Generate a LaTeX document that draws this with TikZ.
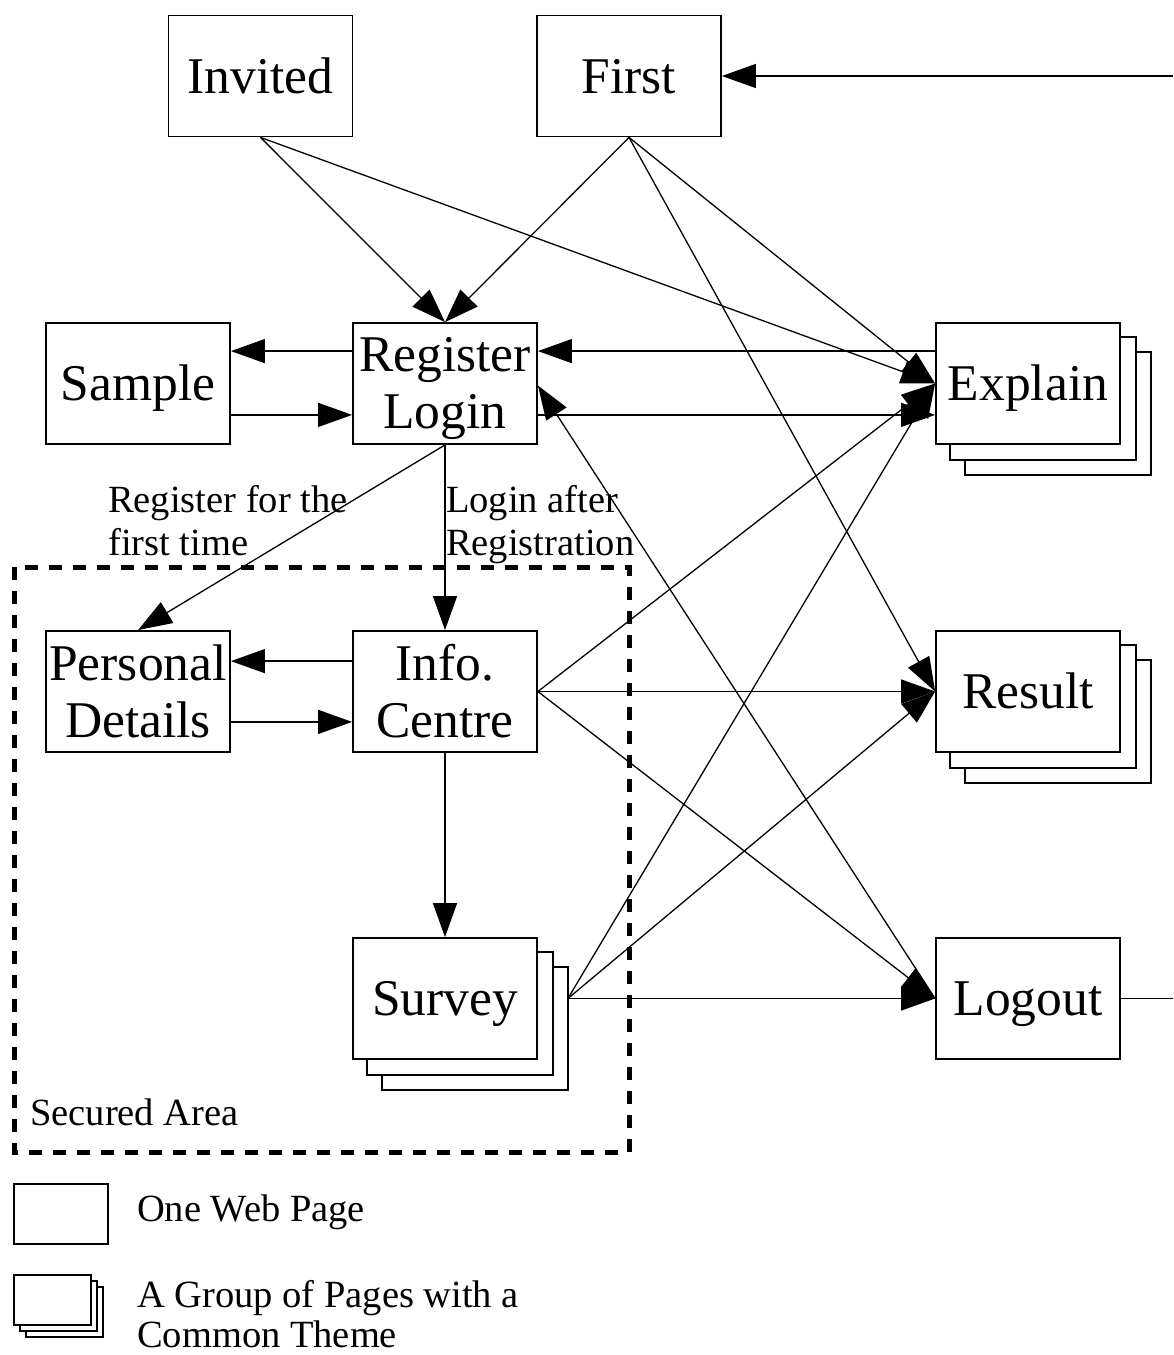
\documentclass[tikz,border=0pt]{standalone}
\usepackage{fontspec}
\setmainfont{Liberation Serif}
\usetikzlibrary{arrows.meta,backgrounds}
\begin{document}
\begin{tikzpicture}[x=1pt,y=-1pt,
  page/.style={draw, line width=1.8pt, fill=white, minimum width=184pt,
    minimum height=121pt, inner sep=0pt},
  back/.style={draw, line width=1.8pt, fill=white},
  big/.style={font=\fontsize{51.5}{57}\selectfont, inner sep=0pt, anchor=base},
  small/.style={font=\fontsize{38.5}{43}\selectfont, inner sep=0pt, anchor=base west},
  link/.style={line width=1.3pt, -{Triangle[length=34pt,width=24pt]}},
  plain/.style={line width=1.3pt},
  secure/.style={line width=5pt, dash pattern=on 13pt off 11pt}]

\useasboundingbox (0,0) rectangle (1173,1355);

% secured area frame
\draw[secure] (14,567) rectangle (629,1152);
\node[small] (secured) at (30,1125) {Secured Area};

% pages
\node[page] (inv) at (260.5,76)  {};
\node[page] (fst) at (629,76)    {};
\node[page] (sm)  at (138,383.5) {};
\node[page] (reg) at (445,383.5) {};
\node[page] (ex)  at (1028,383.5) {};
\node[page] (pd)  at (138,691.5) {};
\node[page] (ic)  at (445,691.5) {};
\node[page] (rs)  at (1028,691.5) {};
\node[page] (sv)  at (445,998.5) {};
\node[page] (lo)  at (1028,998.5) {};

% stacked pages behind the page groups
\begin{scope}[on background layer]
  \foreach \n in {ex,rs,sv} {
    \draw[back] ([shift={(30,30)}]\n.north west) rectangle ([shift={(30,30)}]\n.south east);
    \draw[back] ([shift={(15,15)}]\n.north west) rectangle ([shift={(15,15)}]\n.south east);
  }
\end{scope}

% page titles
\node[big] (tinv) at (260.5,93) {Invited};
\node[big] (tfst) at (629,93) {First};
\node[big] (tsm)  at (138,400.5) {Sample};
\node[big] (treg) at (445,371) {Register};
\node[big] (tlog) at (445,428) {Login};
\node[big] (tex)  at (1028,400.5) {Explain};
\node[big] (tpd)  at (138,680) {Personal};
\node[big] (tdet) at (138,737) {Details};
\node[big] (tic)  at (445,680) {Info.};
\node[big] (tcen) at (445,737) {Centre};
\node[big] (trs)  at (1028,708.5) {Result};
\node[big] (tsv)  at (445,1015.5) {Survey};
\node[big] (tlo)  at (1028,1015.5) {Logout};

% edge labels
\node[small] (la) at (108,512) {Register for the};
\node[small] (lb) at (108,555) {first time};
\node[small] (lc) at (446,512) {Login after};
\node[small] (ld) at (446,555) {Registration};

% connectors
\draw[link] (inv.south) -- (reg.north);
\draw[link] (inv.south) -- (ex.west);
\draw[link] (fst.south) -- (reg.north);
\draw[link] (fst.south) -- (ex.west);
\draw[link] (fst.south) -- (rs.west);

\draw[link] ([yshift=-29pt]reg.north west) -- ([yshift=-29pt]sm.north east);
\draw[link] ([yshift=30pt]sm.south east) -- ([yshift=30pt]reg.south west);
\draw[link] ([yshift=-29pt]ex.north west) -- ([yshift=-29pt]reg.north east);
\draw[link] ([yshift=30pt]reg.south east) -- ([yshift=30pt]ex.south west);

\draw[link] (reg.south) -- (pd.north);
\draw[link] (reg.south) -- (ic.north);
\draw[link] ([yshift=-31pt]ic.north west) -- ([yshift=-31pt]pd.north east);
\draw[link] ([yshift=31pt]pd.south east) -- ([yshift=31pt]ic.south west);
\draw[link] (ic.south) -- (sv.north);

\draw[link] (ic.east) -- (ex.west);
\draw[link] (ic.east) -- (rs.west);
\draw[link] (ic.east) -- (lo.west);

\coordinate (svout) at ([xshift=30pt]sv.east);
\draw[link] (svout) -- (ex.west);
\draw[link] (svout) -- (rs.west);
\draw[link] (svout) -- (lo.west);

\draw[link] (lo.west) -- ([yshift=-2pt]reg.east);

\coordinate (loopout) at (1173,998.5);
\coordinate (loopin) at (1173,76);
\draw[plain] (lo.east) -- (loopout);
\draw[link] (loopin) -- (fst.east);

% legend
\node[draw, line width=1.8pt, minimum width=94pt, minimum height=60pt, inner sep=0pt]
  (leg1) at (61,1214) {};
\draw[back] (26,1287) rectangle (103,1337);
\draw[back] (20,1281) rectangle (97,1331);
\node[draw, line width=1.8pt, fill=white, minimum width=77pt, minimum height=50pt, inner sep=0pt]
  (leg2) at (52.5,1300) {};
\node[small] (lt1) at (137,1221) {One Web Page};
\node[small] (lt2) at (137,1307) {A Group of Pages with a};
\node[small] (lt3) at (137,1347) {Common Theme};
\end{tikzpicture}
\end{document}
